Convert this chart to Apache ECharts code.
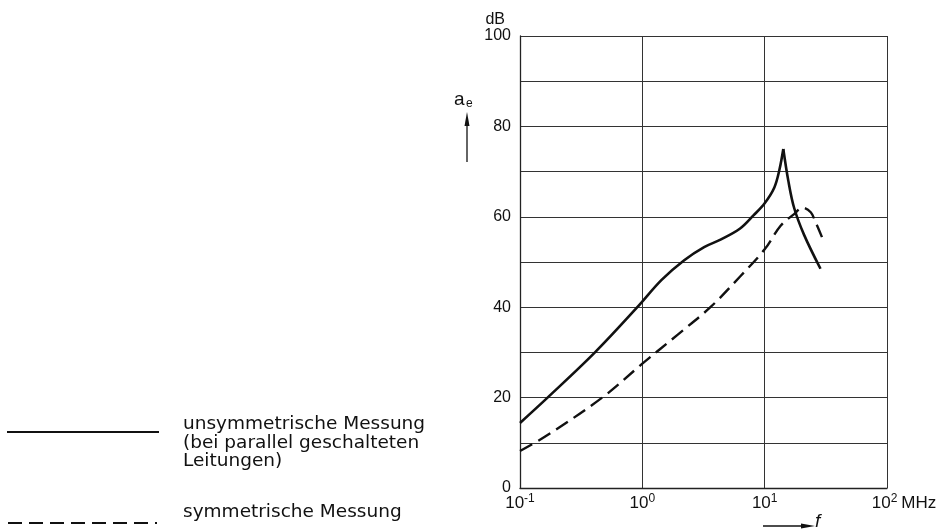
<!DOCTYPE html>
<html>
<head>
<meta charset="utf-8">
<script src="https://cdn.jsdelivr.net/npm/echarts@6/dist/echarts.min.js"></script>
<style>
  html, body { margin: 0; padding: 0; background: #fff; }
  #chart { width: 948px; height: 531px; }
</style>
</head>
<body>
<div id="chart"></div>
<script>
// unsymmetrische Messung: steigender Ast bis zur Spitze (f in MHz, a_e in dB)
var solidRiseF  = [0.1, 0.168, 0.41, 0.91, 1.43, 2.2, 3.2, 4.4, 6.3, 8.1, 10, 12, 13.2, 14.2];
var solidRiseDb = [14.4, 20, 30, 40, 46, 50.4, 53.3, 55, 57.4, 60.3, 63, 66.5, 70.4, 75];
// fallender Ast nach der Spitze
var solidFallF  = [14.2, 15.6, 17.4, 21, 28.6];
var solidFallDb = [75, 68, 62, 56, 48.5];
// symmetrische Messung
var dashF  = [0.1, 0.163, 0.47, 1.0, 1.96, 3.6, 6.3, 10, 13.5, 17.4, 20.4, 23.8, 25.9, 29.4];
var dashDb = [8.2, 11.5, 20, 27.5, 34, 40, 46.8, 52.8, 58, 60.6, 62, 61, 59, 55.5];
// Achsenbeschriftung
var xTicks   = [0.1, 1, 10, 100];
var xTickSup = ['-1', '0', '1', '2'];
var yLabelStep = 20;

function pairs(fs, vs) {
  var out = [];
  for (var i = 0; i < fs.length; i++) {
    out.push([fs[i], vs[i]]);
  }
  return out;
}

var ink = '#111';
var chart = echarts.init(document.getElementById('chart'), null, { renderer: 'canvas' });

var option = {
  backgroundColor: '#fff',
  animation: false,
  grid: { left: 520, right: 61, top: 36, bottom: 43 },
  xAxis: {
    type: 'log',
    logBase: 10,
    min: 0.1,
    max: 100,
    axisLine: { show: true, lineStyle: { color: '#222', width: 1.3 } },
    axisTick: { show: false },
    splitLine: { show: true, lineStyle: { color: '#333', width: 1 } },
    minorTick: { show: false },
    axisLabel: {
      margin: 5,
      formatter: function (v) {
        for (var i = 0; i < xTicks.length; i++) {
          if (Math.abs(Math.log10(v) - Math.log10(xTicks[i])) < 1e-6) {
            // letzte Marke bekommt die Einheit, die Potenz bleibt über dem Strich
            if (i === xTicks.length - 1) return '{p|}{b|10}{s|' + xTickSup[i] + '}{m|MHz}';
            return '{b|10}{s|' + xTickSup[i] + '}';
          }
        }
        return '';
      },
      rich: {
        b: { fontFamily: 'Liberation Sans', fontSize: 17, color: ink, verticalAlign: 'bottom' },
        s: { fontFamily: 'Liberation Sans', fontSize: 12, color: ink, verticalAlign: 'bottom', padding: [0, 0, 7, 0] },
        m: { fontFamily: 'Liberation Sans', fontSize: 17, color: ink, verticalAlign: 'bottom', padding: [0, 0, 0, 4] },
        p: { width: 34 }
      }
    }
  },
  yAxis: {
    type: 'value',
    min: 0,
    max: 100,
    interval: 10,
    name: 'dB',
    nameLocation: 'end',
    nameGap: 8,
    nameTextStyle: {
      fontFamily: 'Liberation Sans', fontSize: 16, color: ink,
      align: 'right', padding: [0, 15, 0, 0]
    },
    axisLine: { show: true, lineStyle: { color: '#222', width: 1.3 } },
    axisTick: { show: false },
    splitLine: { show: true, lineStyle: { color: '#333', width: 1 } },
    axisLabel: {
      margin: 9,
      fontFamily: 'Liberation Sans',
      fontSize: 16,
      color: ink,
      formatter: function (v) {
        return v % yLabelStep === 0 ? String(v) : '';
      }
    }
  },
  series: [
    {
      name: 'unsymmetrisch',
      type: 'line',
      data: pairs(solidRiseF, solidRiseDb),
      smooth: 0.35,
      symbol: 'none',
      lineStyle: { color: ink, width: 2.6 }
    },
    {
      name: 'unsymmetrisch',
      type: 'line',
      data: pairs(solidFallF, solidFallDb),
      smooth: 0.35,
      symbol: 'none',
      lineStyle: { color: ink, width: 2.6 }
    },
    {
      name: 'symmetrisch',
      type: 'line',
      data: pairs(dashF, dashDb),
      smooth: 0.35,
      symbol: 'none',
      lineStyle: { color: ink, width: 2.4, type: [14, 7] }
    }
  ],
  graphic: [
    // Legende
    { type: 'line', silent: true, shape: { x1: 7, y1: 432, x2: 159, y2: 432 },
      style: { stroke: ink, lineWidth: 2.2 } },
    { type: 'text', silent: true, x: 183, y: 415,
      style: { text: 'unsymmetrische Messung\n(bei parallel geschalteten\nLeitungen)',
        font: '18.5px "DejaVu Sans"', fill: ink, lineHeight: 18.5, textVerticalAlign: 'top' } },
    { type: 'line', silent: true, shape: { x1: 8, y1: 523, x2: 157, y2: 523 },
      style: { stroke: ink, lineWidth: 2.2, lineDash: [14, 7] } },
    { type: 'text', silent: true, x: 183, y: 503,
      style: { text: 'symmetrische Messung', font: '18.5px "DejaVu Sans"', fill: ink,
        lineHeight: 18.5, textVerticalAlign: 'top' } },
    // Größe a_e mit Pfeil
    { type: 'text', silent: true, x: 454, y: 100,
      style: { text: 'a', font: '19px "Liberation Sans"', fill: ink, textVerticalAlign: 'middle' } },
    { type: 'text', silent: true, x: 466, y: 104,
      style: { text: 'e', font: '12px "Liberation Sans"', fill: ink, textVerticalAlign: 'middle' } },
    { type: 'line', silent: true, shape: { x1: 467, y1: 162, x2: 467, y2: 122 },
      style: { stroke: ink, lineWidth: 1.3 } },
    { type: 'polygon', silent: true, shape: { points: [[467, 112], [464.5, 126], [469.5, 126]] },
      style: { fill: ink } },
    // Frequenz f mit Pfeil
    { type: 'line', silent: true, shape: { x1: 763, y1: 526, x2: 803, y2: 526 },
      style: { stroke: ink, lineWidth: 1.3 } },
    { type: 'polygon', silent: true, shape: { points: [[815, 526], [801, 523.5], [801, 528.5]] },
      style: { fill: ink } },
    { type: 'text', silent: true, x: 815, y: 522,
      style: { text: 'f', font: 'italic 19px "Liberation Sans"', fill: ink, textVerticalAlign: 'middle' } }
  ]
};

chart.setOption(option);
</script>
</body>
</html>
